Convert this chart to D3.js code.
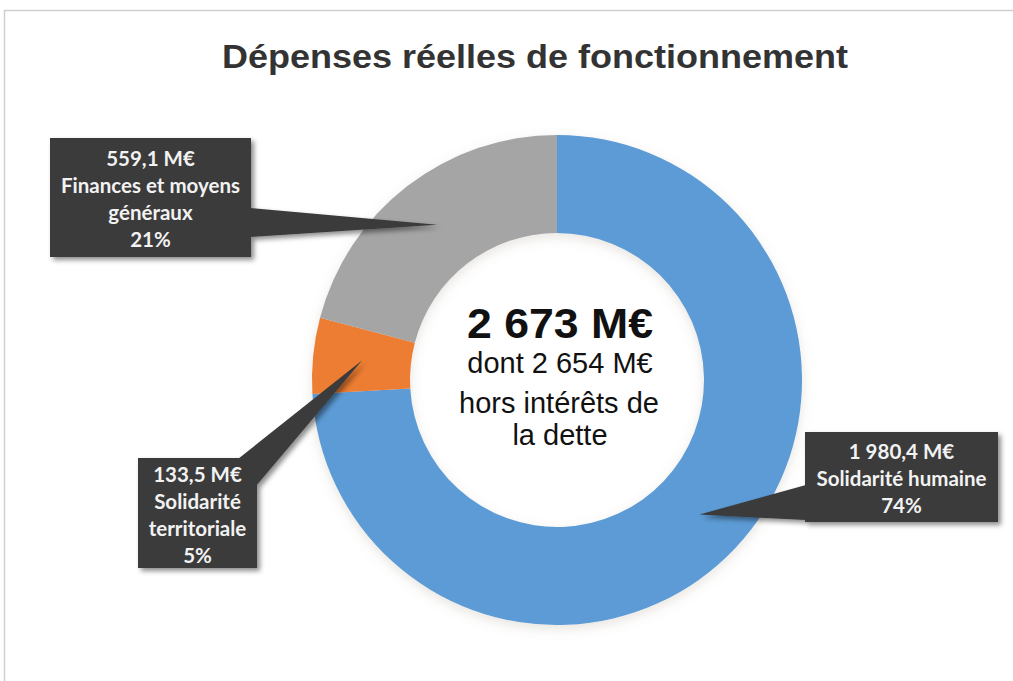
<!DOCTYPE html>
<html><head><meta charset="utf-8">
<script src="https://cdn.jsdelivr.net/npm/d3@7"></script>
<style>html,body{margin:0;padding:0;background:#fff;}svg{display:block;}</style>
</head><body>
<svg id="c" width="1013" height="681"></svg>
<script>
// ---- data ----
const categories = ["Solidarité humaine", "Solidarité territoriale", "Finances et moyens généraux"];
const values = [1980.4, 133.5, 559.1];
const amountLabels = ["1 980,4 M€", "133,5 M€", "559,1 M€"];
const percentLabels = ["74%", "5%", "21%"];
const colors = ["#5b9bd5", "#ed7d31", "#a5a5a5"];
const title = "Dépenses réelles de fonctionnement";
const centerLines = ["2 673 M€", "dont 2 654 M€", "hors intérêts de", "la dette"];

// ---- layout (not data) ----
const cx = 557, cy = 380, rOuter = 245, rInner = 147;
const callouts = [
  {box:[805,432,193,90], lines:["1 980,4 M€","Solidarité humaine","74%"], base:[[806,485],[806,520]]},
  {box:[138,458,119,110], lines:["133,5 M€","Solidarité","territoriale","5%"], base:[[238,459],[256,486]]},
  {box:[50,138,201,119], lines:["559,1 M€","Finances et moyens","généraux","21%"], base:[[250,208],[250,237]]}
];

const svg = d3.select("#c");
const defs = svg.append("defs");
const f = defs.append("filter").attr("id","sh").attr("x","-20%").attr("y","-20%").attr("width","150%").attr("height","150%");
f.append("feDropShadow").attr("dx",3).attr("dy",3).attr("stdDeviation",2.5).attr("flood-color","#000").attr("flood-opacity",0.45);
const f2 = defs.append("filter").attr("id","dsh").attr("x","-20%").attr("y","-20%").attr("width","140%").attr("height","140%");
f2.append("feDropShadow").attr("dx",0).attr("dy",4).attr("stdDeviation",6).attr("flood-color","#7a6a50").attr("flood-opacity",0.18);

// frame
svg.append("path").attr("d","M4.5,690 L4.5,10.5 L1020,10.5").attr("fill","none").attr("stroke","#cfcfcf").attr("stroke-width",1.5);

// title
svg.append("text").attr("x",535).attr("y",68).attr("text-anchor","middle")
  .attr("font-family","Liberation Sans, Arial, sans-serif").attr("font-weight","bold")
  .attr("font-size",34).attr("fill","#333").attr("textLength",626).attr("lengthAdjust","spacingAndGlyphs")
  .text(title);

// donut
const pie = d3.pie().sort(null).value(d => d)(values);
const arc = d3.arc().innerRadius(rInner).outerRadius(rOuter);
const g = svg.append("g").attr("transform",`translate(${cx},${cy})`);
g.append("g").attr("filter","url(#dsh)").selectAll("path").data(pie).join("path")
  .attr("d",arc).attr("fill",(d,i)=>colors[i]);

// center text
const ct = svg.append("g").attr("font-family","Liberation Sans, Arial, sans-serif").attr("text-anchor","middle").attr("fill","#111");
ct.append("text").attr("x",560).attr("y",338).attr("font-size",42).attr("font-weight","bold").attr("textLength",186).attr("lengthAdjust","spacingAndGlyphs").text(centerLines[0]);
ct.append("text").attr("x",560).attr("y",373).attr("font-size",29).text(centerLines[1]);
ct.append("text").attr("x",559).attr("y",413).attr("font-size",29).text(centerLines[2]);
ct.append("text").attr("x",560).attr("y",445).attr("font-size",29).text(centerLines[3]);

// callouts
callouts.forEach((c,i) => {
  const tip = arc.centroid(pie[i]).map((v,k)=> v + (k===0?cx:cy));
  const gg = svg.append("g").attr("filter","url(#sh)");
  gg.append("polygon").attr("points",[c.base[0],c.base[1],tip].map(p=>p.join(",")).join(" ")).attr("fill","#3a3a3a");
  gg.append("rect").attr("x",c.box[0]).attr("y",c.box[1]).attr("width",c.box[2]).attr("height",c.box[3]).attr("fill","#3a3a3a");
  const lines = [amountLabels[i]].concat(c.lines.slice(1,-1)).concat([percentLabels[i]]);
  const lh = 27;
  const y0 = c.box[1] + c.box[3]/2 - (lines.length-1)*lh/2 + 9;
  const t = svg.append("text").attr("text-anchor","middle").attr("font-family","Lato, Open Sans, sans-serif")
    .attr("font-weight","bold").attr("font-size",20.5).attr("fill","#f2f2f2");
  lines.forEach((l,k)=> t.append("tspan").attr("x",c.box[0]+c.box[2]/2).attr("y",y0+k*lh).text(l));
});
</script>
</body></html>
